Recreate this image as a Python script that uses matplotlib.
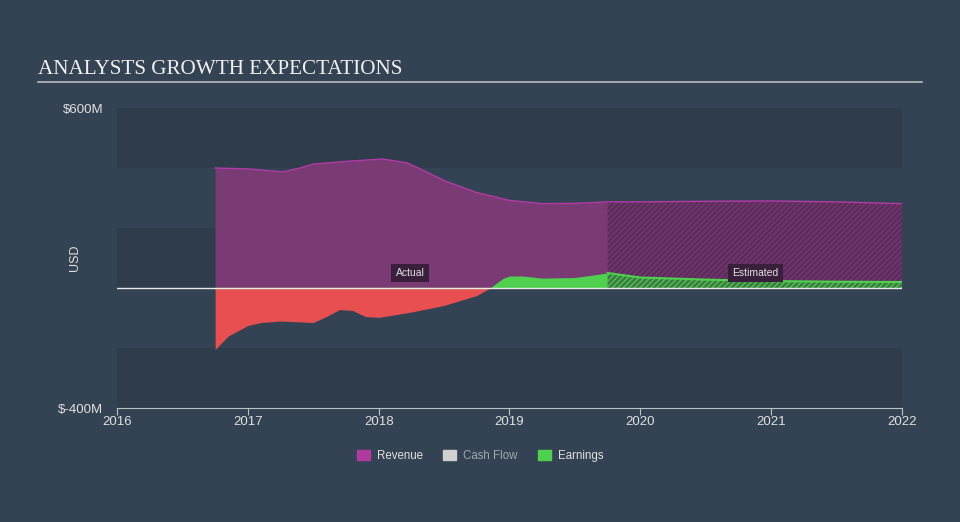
import numpy as np
import matplotlib.pyplot as plt
from matplotlib.patches import Patch

# values in $M, x in decimal years
rev_x = [2016.75, 2017.0, 2017.27, 2017.4, 2017.5, 2017.75, 2018.03, 2018.22, 2018.35, 2018.5,
         2018.75, 2019.0, 2019.25, 2019.5, 2019.75]
rev_y = [400, 397, 387, 400, 413, 422, 430, 417, 390, 358, 318, 292, 281, 282, 287]
rev_est_x = [2019.75, 2020.0, 2020.5, 2021.0, 2021.5, 2022.0]
rev_est_y = [287, 287, 289, 290, 287, 281]

earn_x = [2016.75, 2016.85, 2017.0, 2017.1, 2017.25, 2017.5, 2017.6, 2017.7, 2017.8, 2017.9, 2018.0,
          2018.25, 2018.5, 2018.75, 2018.85, 2018.95, 2019.0, 2019.1, 2019.25, 2019.5, 2019.75]
earn_y = [-205, -160, -125, -115, -110, -115, -95, -72, -75, -95, -98,
          -80, -58, -25, 0, 32, 40, 40, 33, 35, 50]
earn_est_x = [2019.75, 2020.0, 2020.5, 2021.0, 2021.5, 2022.0]
earn_est_y = [50, 35, 28, 23, 21, 20]

BG = '#344353'
REV_FILL = '#7a3a74'
REV_LINE = '#b43aa6'
GREEN = '#4fd14f'
RED = '#e84f51'

fig = plt.figure(figsize=(9.6, 5.22), dpi=100, facecolor=BG)
ax = fig.add_axes([117 / 960, 1 - 408 / 522, 785 / 960, 300 / 522])
ax.set_facecolor(BG)
ax.set_xlim(2016, 2022)
ax.set_ylim(-400, 600)

# alternating bands
for lo in (400, 0, -400):
    ax.axhspan(lo, lo + 200, color='#2f3c4b', zorder=0, lw=0)

# revenue actual
ax.fill_between(rev_x, 0, rev_y, color=REV_FILL, lw=0, zorder=2)
ax.plot(rev_x, rev_y, color=REV_LINE, lw=1.0, zorder=3)
# revenue estimated (hatched)
plt.rcParams['hatch.linewidth'] = 0.8
ax.fill_between(rev_est_x, 0, rev_est_y, facecolor='#6e3468', edgecolor='#4c2a55',
                hatch='//////', lw=0, zorder=2)
ax.plot(rev_est_x, rev_est_y, color=REV_LINE, lw=1.0, zorder=3)

# earnings actual
ex = np.array(earn_x)
ey = np.array(earn_y)
ax.fill_between(ex, 0, ey, where=ey <= 0, interpolate=True, color=RED, lw=0, zorder=4)
ax.fill_between(ex, 0, ey, where=ey >= 0, interpolate=True, color=GREEN, lw=0, zorder=4)
ax.plot(ex[ex <= 2018.85], np.zeros((ex <= 2018.85).sum()), color='#7a9a4a', lw=1, zorder=5)
# earnings estimated
ax.fill_between(earn_est_x, 0, earn_est_y, facecolor='#3e7a44', edgecolor='#4fd14f',
                hatch='//////', lw=0, zorder=4)
ax.plot(earn_est_x, earn_est_y, color=GREEN, lw=1.5, zorder=5)

ax.axhline(0, color='#e8e8e8', lw=1, zorder=6)

ax.text(2018.24, 34, 'Actual', color='#e0e0e0', fontsize=7.5, ha='center', va='bottom',
        family='Liberation Sans', zorder=7,
        bbox=dict(boxstyle='square,pad=0.4', fc='#3a1f3d', ec='none'))
ax.text(2020.88, 34, 'Estimated', color='#e0e0e0', fontsize=7.5, ha='center', va='bottom',
        family='Liberation Sans', zorder=7,
        bbox=dict(boxstyle='square,pad=0.4', fc='#3a1f3d', ec='none'))

for s in ['top', 'right', 'left']:
    ax.spines[s].set_visible(False)
ax.spines['bottom'].set_color('#b8c0c8')
ax.set_xticks([2016, 2017, 2018, 2019, 2020, 2021, 2022])
ax.set_xticklabels(['2016', '2017', '2018', '2019', '2020', '2021', '2022'])
ax.set_yticks([600, -400])
ax.set_yticklabels(['$600M', '$-400M'])
ax.tick_params(axis='x', colors='#b8c0c8', labelcolor='#e0e0e0', labelsize=9.5, length=5, pad=1)
ax.tick_params(axis='y', length=0, labelcolor='#e0e0e0', labelsize=9.5, pad=10)
for lab in ax.get_xticklabels() + ax.get_yticklabels():
    lab.set_family('Liberation Sans')
ax.set_ylabel('USD', color='#e0e0e0', fontsize=9, family='Liberation Sans')
ax.yaxis.set_label_coords(-0.046, 0.5)

fig.text(38 / 960, 1 - 74 / 522, 'ANALYSTS GROWTH EXPECTATIONS', color='#f0f0f0',
         fontsize=15.2, family='Liberation Serif', va='baseline')
fig.add_artist(plt.Line2D([38 / 960, 922 / 960], [1 - 82 / 522] * 2, color='#b8bcc0', lw=1.2))

handles = [Patch(color='#b03aa0', label='Revenue'),
           Patch(color='#d0d0d0', label='Cash Flow'),
           Patch(color=GREEN, label='Earnings')]
leg = fig.legend(handles=handles, loc='center', bbox_to_anchor=(0.5, 1 - 456 / 522), ncol=3,
                 frameon=False, handlelength=1.1, handleheight=1.0, columnspacing=1.8,
                 handletextpad=0.6, prop={'family': 'Liberation Sans', 'size': 8.3})
for t in leg.get_texts():
    t.set_color('#e0e0e0')
leg.get_texts()[1].set_color('#a0a8b0')

fig.savefig('out.png', dpi=100, facecolor=BG)
